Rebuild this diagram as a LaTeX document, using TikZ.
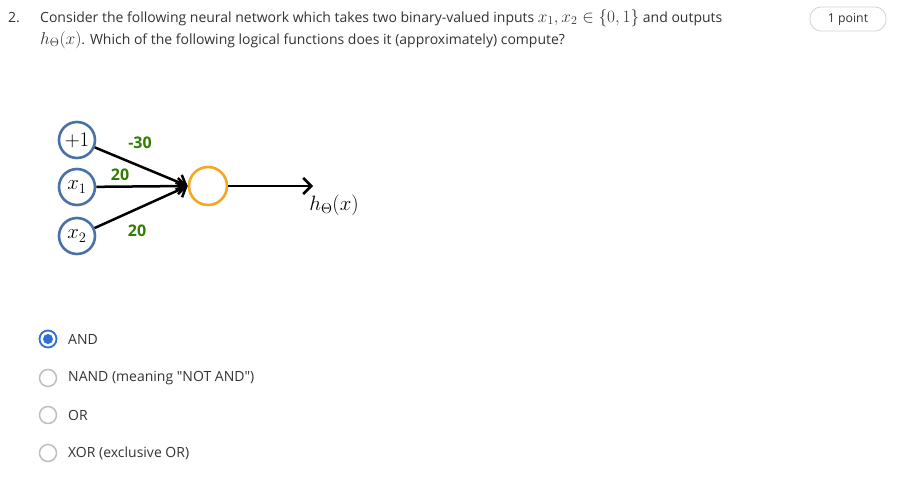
\documentclass[tikz,border=0pt]{standalone}
\usepackage[no-math]{fontspec}
\setmainfont{Open Sans}
\usetikzlibrary{arrows.meta}
\definecolor{txt}{RGB}{51,51,51}
\definecolor{nblue}{RGB}{74,114,168}
\definecolor{norange}{RGB}{245,166,35}
\definecolor{wgreen}{RGB}{48,125,0}
\definecolor{rgray}{RGB}{190,190,190}
\definecolor{rblue}{RGB}{47,111,214}
\newcommand{\qmath}[1]{{\fontsize{18.7}{18.7}\selectfont$#1$}}
\tikzset{
  inp/.style={circle,draw=nblue,line width=2.6pt,minimum size=36pt,inner sep=0pt,font=\fontsize{19.5}{19.5}\selectfont},
  outn/.style={circle,draw=norange,line width=2.6pt,minimum size=38pt,inner sep=0pt},
  conn/.style={line width=2.5pt,-{Straight Barb[length=8pt,width=16pt,line width=2.5pt]}},
  wlab/.style={text=wgreen,font=\fontsize{16}{16}\selectfont\bfseries},
  qtext/.style={text=txt,font=\fontsize{14}{15}\selectfont,anchor=west,inner sep=0pt},
  radio/.style={circle,draw=rgray,line width=1.5pt,minimum size=17pt,inner sep=0pt},
  opt/.style={text=txt,font=\fontsize{14}{15}\selectfont,anchor=west,inner sep=0pt},
}
\begin{document}
\begin{tikzpicture}[x=1pt,y=-1pt]
\useasboundingbox (0,0) rectangle (918,492);
% question
\node[qtext] (num) at (8,18) {2.};
\node[qtext] (q1) at (40,18) {Consider the following neural network which takes two binary-valued inputs \qmath{x_1,x_2\in\{0,1\}} and outputs};
\node[qtext] (q2) at (40,40) {\qmath{h_\Theta(x)}. Which of the following logical functions does it (approximately) compute?};
\draw[rgray!70,line width=0.8pt,rounded corners=11pt] (810,7) rectangle (886,31);
\node[text=txt,font=\fontsize{12.3}{13}\selectfont] (pt) at (848,19) {1 point};
% network
\node[inp] (b) at (77,140) {$+1$};
\node[inp] (x1) at (77,187) {$x_1$};
\node[inp] (x2) at (77,236) {$x_2$};
\node[outn] (o) at (208,186) {};
\coordinate (out) at (313,186);
\draw[conn] (b) -- (o.west);
\draw[conn] (x1) -- (o.west);
\draw[conn] (x2) -- (o.west);
\draw[conn] (o) -- (out);
\node[font=\fontsize{22}{22}\selectfont] (h) at (334,205) {$h_\Theta(x)$};
\node[wlab] (w0) at (140,143) {-30};
\node[wlab] (w1) at (120,175) {20};
\node[wlab] (w2) at (137,231) {20};
% options
\node[circle,draw=rblue,line width=1.8pt,minimum size=17pt,inner sep=0pt] (r1) at (48,339) {};
\fill[rblue] (r1.center) circle (5pt);
\node[radio] (r2) at (48,378) {};
\node[radio] (r3) at (48,415) {};
\node[radio] (r4) at (48,453) {};
\node[opt] (o1) at (68,339) {AND};
\node[opt] (o2) at (68,378) {NAND (meaning \textquotedbl NOT AND\textquotedbl)};
\node[opt] (o3) at (68,415) {OR};
\node[opt] (o4) at (68,453) {XOR (exclusive OR)};
\end{tikzpicture}
\end{document}
